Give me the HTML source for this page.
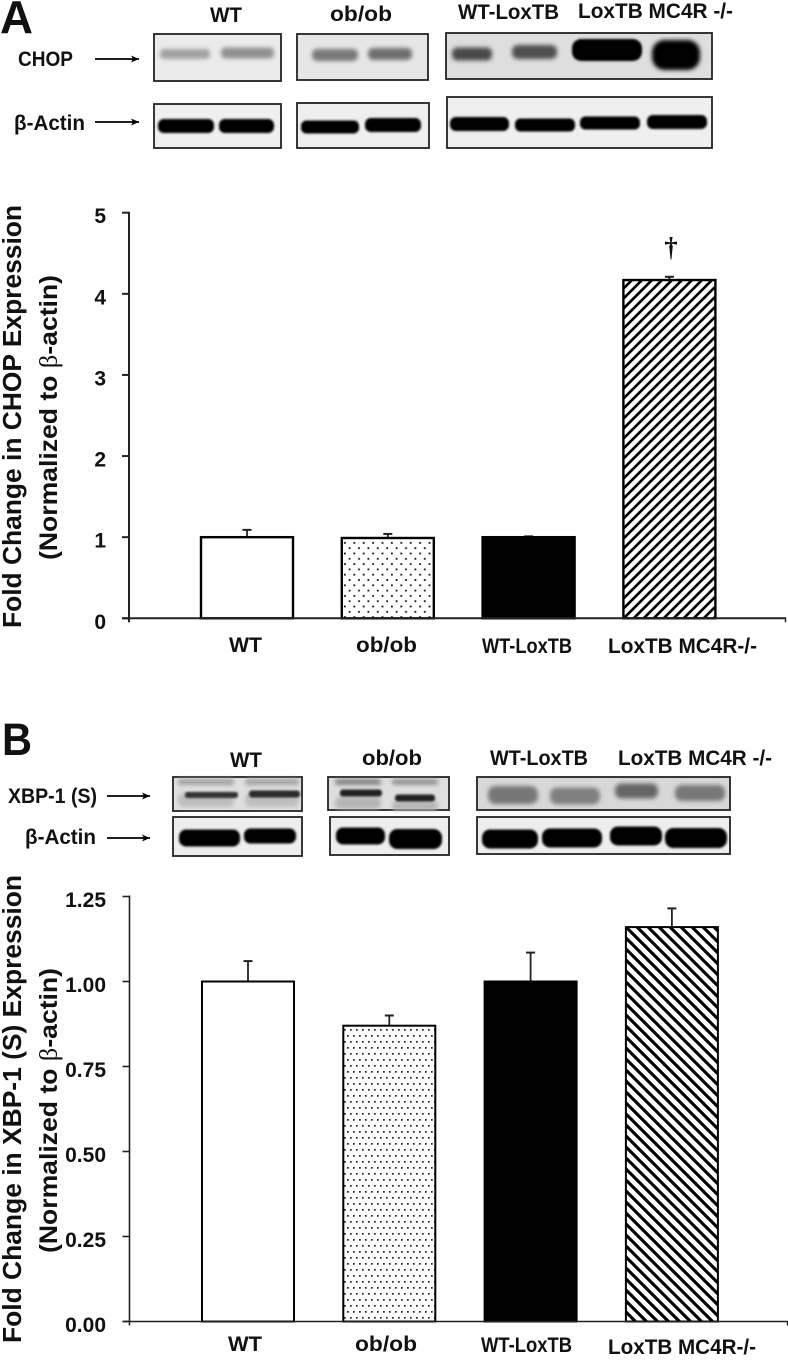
<!DOCTYPE html>
<html lang="en">
<head>
<meta charset="utf-8">
<title>CHOP and XBP-1 expression</title>
<style>
html,body{margin:0;padding:0;background:#fff;width:788px;height:1360px;overflow:hidden}
svg{display:block;filter:blur(0.35px)}
text{font-family:"Liberation Sans",sans-serif;font-weight:bold;fill:#111}
.beta{font-family:"Liberation Serif",serif;font-weight:normal}
</style>
</head>
<body>
<svg id="figure" xmlns="http://www.w3.org/2000/svg" width="788" height="1360" viewBox="0 0 788 1360">
<defs>
<filter id="soft" x="-20%" y="-50%" width="140%" height="200%"><feGaussianBlur stdDeviation="1"/></filter>
<filter id="softer" x="-20%" y="-80%" width="140%" height="260%"><feGaussianBlur stdDeviation="2.2"/></filter>
<pattern id="dotsA" width="9.4" height="10.6" patternUnits="userSpaceOnUse" x="201" y="540">
<rect width="1.8" height="1.8" x="2" y="2" fill="#111"/><rect width="1.8" height="1.8" x="6.7" y="7.3" fill="#111"/>
</pattern>
<pattern id="dotsB" width="6" height="12" patternUnits="userSpaceOnUse" x="343" y="1027">
<rect width="1.7" height="1.7" x="1" y="2" fill="#222"/><rect width="1.7" height="1.7" x="4" y="8" fill="#222"/>
</pattern>
<pattern id="hatchA" width="10" height="10" patternUnits="userSpaceOnUse" patternTransform="translate(622 280)">
<path d="M-2,12 L12,-2 M-7,7 L7,-7 M3,17 L17,3" stroke="#000" stroke-width="2.7" fill="none"/>
</pattern>
<pattern id="hatchB" width="11" height="11" patternUnits="userSpaceOnUse" patternTransform="translate(625 926)">
<path d="M-2,-2 L13,13 M-7.5,3.5 L7.5,18.5 M3.5,-7.5 L18.5,7.5" stroke="#000" stroke-width="3.1" fill="none"/>
</pattern>
<marker id="arrowhead" markerWidth="9" markerHeight="8" refX="8" refY="4" orient="auto" markerUnits="userSpaceOnUse">
<path d="M0,0.5 L8,4 L0,7.5 L2,4 Z" fill="#000"/>
</marker>
</defs>

<text x="0" y="33" font-size="46" textLength="33" lengthAdjust="spacingAndGlyphs">A</text>
<text x="2" y="755" font-size="45" textLength="30" lengthAdjust="spacingAndGlyphs">B</text>

<text transform="translate(21 628) rotate(-90)" font-size="25.5" textLength="423" lengthAdjust="spacingAndGlyphs">Fold Change in CHOP Expression</text>
<text transform="translate(57 560) rotate(-90)" font-size="25" textLength="285" lengthAdjust="spacingAndGlyphs">(Normalized to <tspan class="beta">β</tspan>-actin)</text>
<text transform="translate(21 1343) rotate(-90)" font-size="25.5" textLength="468" lengthAdjust="spacingAndGlyphs">Fold Change in XBP-1 (S) Expression</text>
<text transform="translate(57 1253) rotate(-90)" font-size="25" textLength="285" lengthAdjust="spacingAndGlyphs">(Normalized to <tspan class="beta">β</tspan>-actin)</text>

<text x="671" y="256" font-size="27" text-anchor="middle" style="font-family:'Liberation Serif',serif;font-weight:bold">†</text>

<g id="blots"></g>
<g id="chartA"></g>
<g id="chartB"></g>
</svg>

<script>
// ---- Chart A data
const categoriesA = ["WT", "ob/ob", "WT-LoxTB", "LoxTB MC4R-/-"];
const valuesA = [1.0, 0.99, 1.0, 4.17];
const errorsA = [0.09, 0.05, 0.01, 0.04];
const ticksA = [0, 1, 2, 3, 4, 5];
const tickLabelsA = ["0", "1", "2", "3", "4", "5"];
// ---- Chart B data
const categoriesB = ["WT", "ob/ob", "WT-LoxTB", "LoxTB MC4R-/-"];
const valuesB = [1.0, 0.87, 1.0, 1.16];
const errorsB = [0.06, 0.03, 0.085, 0.055];
const ticksB = [0, 0.25, 0.5, 0.75, 1, 1.25];
const tickLabelsB = ["0.00", "0.25", "0.50", "0.75", "1.00", "1.25"];
// ---- Blot captions
const blotCaptions = ["WT", "ob/ob", "WT-LoxTB", "LoxTB MC4R -/-"];
const rowLabelsA = ["CHOP", "β-Actin"];
const rowLabelsB = ["XBP-1 (S)", "β-Actin"];

const NS = "http://www.w3.org/2000/svg";
function make(parent, tag, props) {
  const el = document.createElementNS(NS, tag);
  for (const k in props) el.setAttribute(k, props[k]);
  parent.appendChild(el);
  return el;
}
function label(parent, str, x, y, size, len) {
  const t = make(parent, "text", {x: x, y: y, "font-size": size, textLength: len, lengthAdjust: "spacingAndGlyphs"});
  t.textContent = str;
  return t;
}

// ---- Charts
function drawChart(root, cfg) {
  const yScale = v => cfg.y0 - v * cfg.unit;
  const xScale = i => cfg.x0 + i * cfg.step;
  const fills = ["#fff", cfg.dots, "#000", cfg.hatch];

  cfg.values.forEach((v, i) => {
    const x = xScale(i);
    const top = yScale(v);
    const cx = x + cfg.barW / 2;
    const topErr = yScale(v + cfg.errors[i]);
    const stem = make(root, "line", {x1: cx, x2: cx, y1: top, y2: topErr, stroke: "#222", "stroke-width": 1.8});
    
    
    const cap = make(root, "line", {x1: cx - 4.5, x2: cx + 4.5, y1: topErr, y2: topErr, stroke: "#222", "stroke-width": 2});
    
    
    const bar = make(root, "rect", {x: x + 1, y: top, width: cfg.barW - 2, height: cfg.y0 - top, fill: fills[i], stroke: "#000", "stroke-width": cfg.barStroke});
    
    
    const cat = label(root, cfg.categories[i], cfg.catX[i], cfg.catY[i], 21, cfg.catW[i]);
    
    
  });

  const xAxis = make(root, "line", {x1: cfg.axisX - 7, x2: cfg.xEnd, y1: cfg.y0, y2: cfg.y0, stroke: "#222", "stroke-width": cfg.axisStroke});
  
  
  const endTick = make(root, "line", {x1: cfg.xEnd - 0.5, x2: cfg.xEnd - 0.5, y1: cfg.y0, y2: cfg.y0 + 4, stroke: "#222", "stroke-width": 1.4});
  
  
  const yAxis = make(root, "line", {x1: cfg.axisX, x2: cfg.axisX, y1: yScale(cfg.ticks[cfg.ticks.length - 1]) - 1, y2: cfg.y0 + 4, stroke: "#222", "stroke-width": cfg.axisStroke});
  
  

  cfg.ticks.forEach((t, i) => {
    const y = yScale(t);
    const mark = make(root, "line", {x1: cfg.axisX - 7, x2: cfg.axisX, y1: y, y2: y, stroke: "#222", "stroke-width": cfg.axisStroke});
    
    
    const tl = make(root, "text", {x: 106, y: y + 10.5, "font-size": 21, "text-anchor": "end"});
    tl.textContent = cfg.tickLabels[i];
    
    
  });
}

drawChart(document.getElementById("chartA"), {
  id: "a", categories: categoriesA, values: valuesA, errors: errorsA, ticks: ticksA, tickLabels: tickLabelsA,
  y0: 618.3, unit: 81.12, x0: 200, step: 140.8, barW: 94, barStroke: 2.4, axisX: 129, xEnd: 786, axisStroke: 2,
  dots: "url(#dotsA)", hatch: "url(#hatchA)",
  catX: [229, 356, 482, 608], catY: [652, 652, 653, 653], catW: [33, 61, 90, 149]
});
drawChart(document.getElementById("chartB"), {
  id: "b", categories: categoriesB, values: valuesB, errors: errorsB, ticks: ticksB, tickLabels: tickLabelsB,
  y0: 1321.5, unit: 340, x0: 201, step: 141.3, barW: 94, barStroke: 2, axisX: 129.5, xEnd: 788, axisStroke: 1.6,
  dots: "url(#dotsB)", hatch: "url(#hatchB)",
  catX: [228, 355, 481, 608], catY: [1351, 1351, 1352, 1354], catW: [34, 62, 91, 148]
});

// ---- Western blot panels; bands are [x, centre y, width, height, colour, softness]
const blotPanels = [
  {box: [154, 34, 127, 47], bg: "#ebebeb", bands: [[160,54,50,10,"#a0a0a0",1],[221,53,53,11,"#909090",1]]},
  {box: [297, 34, 131, 46], bg: "#e6e6e6", bands: [[312,55,46,12,"#787878",1],[368,54,44,12,"#6e6e6e",1]]},
  {box: [446, 33, 266, 46], bg: "#dedede", bands: [[452,54,40,13,"#4a4a4a",1],[512,52,45,14,"#505050",1],[572,50,70,22,"#000",0],[652,55,48,30,"#000",1]]},
  {box: [154, 104, 127, 44], bg: "#efefef", bands: [[158,126,56,14,"#000",0],[219,126,55,14,"#000",0]]},
  {box: [297, 103, 132, 45], bg: "#efefef", bands: [[301,127,58,13,"#000",0],[365,125,56,14,"#000",0]]},
  {box: [447, 97, 265, 51], bg: "#efefef", bands: [[450,124,59,14,"#000",0],[515,125,60,13,"#000",0],[580,123,60,13,"#000",0],[647,122,60,14,"#000",0]]},
  {box: [173, 777, 129, 34], bg: "#e0e0e0", bands: [[178,782,56,6,"#a0a0a0",1],[245,782,54,6,"#a0a0a0",1],[178,800,56,14,"#bdbdbd",1],[245,800,54,14,"#bdbdbd",1],[185,795,53,6,"#333",0],[249,794,51,7,"#2a2a2a",0]]},
  {box: [328, 777, 121, 33], bg: "#dedede", bands: [[335,782,46,5,"#777",1],[392,782,46,5,"#888",1],[335,803,46,12,"#b5b5b5",1],[392,806,46,9,"#b5b5b5",1],[340,793,42,7,"#222",0],[395,798,40,7,"#222",0]]},
  {box: [477, 777, 253, 33], bg: "#d8d8d8", bands: [[488,795,50,18,"#777",1],[550,796,50,17,"#808080",1],[615,791,43,15,"#666",1],[675,793,50,16,"#777",1]]},
  {box: [173, 817, 129, 39], bg: "#eeeeee", bands: [[179,838,61,17,"#000",0],[244,836,52,15,"#000",0]]},
  {box: [330, 817, 119, 38], bg: "#eeeeee", bands: [[336,836,49,17,"#000",0],[389,839,53,20,"#000",0]]},
  {box: [477, 817, 253, 37], bg: "#eeeeee", bands: [[482,839,56,19,"#000",0],[542,838,60,19,"#000",0],[610,836,52,19,"#000",0],[665,838,62,20,"#000",0]]}
];
const captionPositions = [
  [210,22,32],[330,21,62],[458,19,101],[578,18,155],
  [230,767,32],[362,765,60],[490,765,98],[618,765,154]
];
const blots = document.getElementById("blots");
blotPanels.forEach((p, i) => {
  const frame = make(blots, "rect", {x: p.box[0], y: p.box[1], width: p.box[2], height: p.box[3], fill: p.bg, stroke: "#222", "stroke-width": 1.8});
  
  
  p.bands.forEach((b, j) => {
    const band = make(blots, "rect", {x: b[0], y: b[1] - b[3] / 2, width: b[2], height: b[3], rx: b[3] / 2.4, ry: b[3] / 2.4, fill: b[4], filter: b[5] ? "url(#softer)" : "url(#soft)"});
    
    
  });
});
captionPositions.forEach((c, i) => {
  const cap = label(blots, blotCaptions[i % 4], c[0], c[1], 21, c[2]);
  
  
});
const rowLabelPositions = [[18,66,55],[14,130,71]];
rowLabelsA.forEach((s, i) => {
  const r = label(blots, s, rowLabelPositions[i][0], rowLabelPositions[i][1], 21, rowLabelPositions[i][2]);
  
  
});
const rowLabelPositionsB = [[8,803,89],[25,844,71]];
rowLabelsB.forEach((s, i) => {
  const r = label(blots, s, rowLabelPositionsB[i][0], rowLabelPositionsB[i][1], 21, rowLabelPositionsB[i][2]);
  
  
});
const arrows = [[95,139,59],[95,139,122],[107,150,796],[107,150,838]];
arrows.forEach((a, i) => {
  const l = make(blots, "line", {x1: a[0], x2: a[1], y1: a[2], y2: a[2], stroke: "#000", "stroke-width": 1.8, "marker-end": "url(#arrowhead)"});
  
  
});
</script>
</body>
</html>
